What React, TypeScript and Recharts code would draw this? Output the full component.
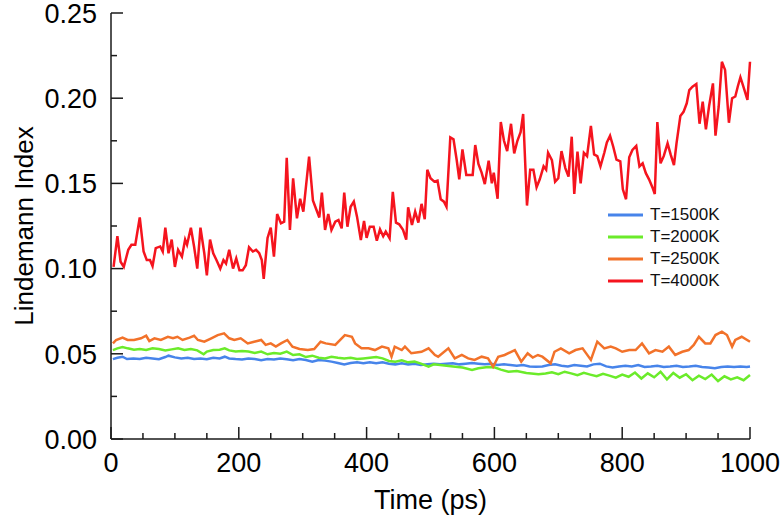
import React from "react"
import { LineChart, Line, XAxis, YAxis, Legend } from "recharts"

const FONT = '"Liberation Sans", Arial, Helvetica, sans-serif'

// tick positions (minor + major)
const xTicks = [0, 50, 100, 150, 200, 250, 300, 350, 400, 450, 500, 550, 600, 650, 700, 750, 800, 850, 900, 950, 1000]
const yTicks = [0, 0.025, 0.05, 0.075, 0.1, 0.125, 0.15, 0.175, 0.2, 0.225, 0.25]

// T = 1500K
const t1500 = [3, 10, 18, 25, 35, 45, 55, 65, 75, 85, 90, 100, 110, 120, 130, 140, 150, 160, 170, 178, 185, 195, 205, 215, 225, 235, 245, 255, 265, 275, 285, 295, 305, 315, 325, 335, 345, 355, 365, 375, 385, 395, 405, 415, 425, 435, 445, 455, 465, 475, 485, 495, 505, 515, 525, 535, 545, 555, 565, 575, 585, 595, 605, 615, 625, 635, 645, 655, 665, 675, 685, 695, 705, 715, 725, 735, 745, 755, 765, 775, 785, 795, 805, 815, 825, 835, 845, 855, 865, 875, 885, 895, 905, 915, 925, 935, 945, 955, 965, 975, 985, 995, 1000]
const v1500 = [0.0469, 0.0477, 0.0483, 0.0469, 0.0473, 0.0469, 0.0477, 0.0473, 0.0468, 0.0481, 0.0489, 0.0479, 0.0473, 0.0477, 0.0469, 0.0473, 0.0468, 0.0477, 0.0473, 0.0483, 0.0473, 0.0469, 0.0466, 0.0473, 0.0469, 0.0462, 0.0469, 0.0466, 0.0473, 0.0468, 0.0462, 0.0469, 0.0464, 0.0454, 0.0464, 0.046, 0.0454, 0.0446, 0.0438, 0.0446, 0.045, 0.0444, 0.045, 0.0444, 0.045, 0.0442, 0.0438, 0.0444, 0.0438, 0.0442, 0.0434, 0.0438, 0.0442, 0.0438, 0.0442, 0.0444, 0.0438, 0.0442, 0.0446, 0.0442, 0.0438, 0.0442, 0.0434, 0.0438, 0.0434, 0.043, 0.0434, 0.0426, 0.0424, 0.0426, 0.0434, 0.0438, 0.043, 0.0426, 0.0434, 0.043, 0.0426, 0.0438, 0.0442, 0.0426, 0.0419, 0.0426, 0.043, 0.0426, 0.0434, 0.0423, 0.0426, 0.043, 0.0423, 0.0426, 0.043, 0.0423, 0.0426, 0.043, 0.0423, 0.0419, 0.0415, 0.0423, 0.0426, 0.0423, 0.0426, 0.0423, 0.0426]

// T = 2000K
const t2000 = [3, 10, 18, 26, 36, 45, 55, 65, 75, 85, 95, 105, 115, 125, 135, 145, 150, 160, 170, 178, 185, 195, 205, 215, 225, 235, 245, 255, 265, 275, 285, 295, 305, 315, 325, 335, 345, 355, 365, 375, 385, 395, 405, 415, 425, 435, 445, 455, 465, 475, 485, 497, 505, 515, 525, 539, 550, 565, 575, 590, 601, 610, 622, 635, 650, 669, 680, 690, 700, 710, 720, 730, 740, 750, 760, 770, 780, 790, 800, 810, 820, 830, 840, 850, 860, 870, 880, 890, 900, 910, 920, 930, 940, 950, 960, 970, 980, 990, 1000]
const v2000 = [0.0522, 0.0532, 0.054, 0.0532, 0.0524, 0.0528, 0.0522, 0.0532, 0.0528, 0.052, 0.0526, 0.0532, 0.0522, 0.0528, 0.052, 0.0497, 0.0513, 0.0522, 0.0524, 0.0532, 0.052, 0.0513, 0.0516, 0.0513, 0.0505, 0.0513, 0.0497, 0.0505, 0.0501, 0.0513, 0.0493, 0.0497, 0.0481, 0.0489, 0.0477, 0.0473, 0.0483, 0.0477, 0.0473, 0.0477, 0.0469, 0.0473, 0.0477, 0.0481, 0.0473, 0.0458, 0.0454, 0.0462, 0.045, 0.0454, 0.0442, 0.0424, 0.0438, 0.0434, 0.043, 0.0424, 0.0419, 0.0405, 0.0415, 0.0423, 0.0419, 0.0407, 0.0395, 0.0399, 0.0387, 0.038, 0.0385, 0.0392, 0.038, 0.0395, 0.0385, 0.0375, 0.0388, 0.0378, 0.0368, 0.0382, 0.0372, 0.036, 0.0378, 0.0365, 0.039, 0.0355, 0.0385, 0.0362, 0.0395, 0.035, 0.0388, 0.036, 0.038, 0.0345, 0.0372, 0.0352, 0.0378, 0.034, 0.0368, 0.035, 0.0362, 0.0345, 0.0375]

// T = 2500K
const t2500 = [3, 8, 18, 26, 36, 47, 55, 60, 68, 78, 89, 97, 104, 112, 123, 130, 136, 146, 157, 167, 177, 185, 193, 203, 214, 224, 235, 242, 250, 258, 266, 276, 284, 295, 308, 318, 328, 336, 351, 366, 377, 382, 392, 403, 413, 424, 434, 439, 444, 455, 460, 470, 486, 497, 507, 512, 528, 538, 549, 559, 569, 580, 590, 598, 606, 616, 632, 642, 652, 660, 668, 675, 688, 694, 704, 717, 727, 738, 751, 761, 772, 782, 790, 800, 811, 821, 831, 842, 852, 863, 873, 883, 894, 904, 912, 920, 930, 938, 946, 956, 964, 972, 977, 987, 1000]
const v2500 = [0.0561, 0.0581, 0.0595, 0.0581, 0.0581, 0.0591, 0.0606, 0.0575, 0.0591, 0.0581, 0.06, 0.0591, 0.06, 0.0581, 0.0595, 0.0606, 0.0581, 0.0571, 0.0591, 0.061, 0.062, 0.0591, 0.0581, 0.0591, 0.0561, 0.0571, 0.0581, 0.0552, 0.0561, 0.0542, 0.0561, 0.0581, 0.0542, 0.0528, 0.0522, 0.0528, 0.0571, 0.0561, 0.0552, 0.061, 0.06, 0.0561, 0.0532, 0.0532, 0.0522, 0.0542, 0.0532, 0.0483, 0.0542, 0.0522, 0.0542, 0.0503, 0.0512, 0.0532, 0.0493, 0.0483, 0.0532, 0.0473, 0.0493, 0.0473, 0.0464, 0.0483, 0.0473, 0.0424, 0.0483, 0.0493, 0.0522, 0.0454, 0.0503, 0.0478, 0.0493, 0.0483, 0.0444, 0.0512, 0.0532, 0.0503, 0.0522, 0.0532, 0.0464, 0.0571, 0.0532, 0.0542, 0.0532, 0.0512, 0.0522, 0.0522, 0.0561, 0.0503, 0.0522, 0.0512, 0.0542, 0.0493, 0.0512, 0.0522, 0.0552, 0.06, 0.0561, 0.0561, 0.061, 0.063, 0.061, 0.0542, 0.0581, 0.06, 0.0571]

// T = 4000K
const t4000 = [4, 10, 15, 20, 27, 32, 38, 45, 51, 56, 61, 65, 70, 77, 81, 85, 90, 95, 100, 105, 111, 116, 119, 125, 130, 135, 140, 146, 150, 155, 160, 165, 171, 176, 180, 185, 191, 196, 201, 206, 211, 216, 222, 227, 232, 236, 239, 245, 250, 255, 260, 266, 271, 275, 280, 285, 291, 296, 301, 310, 316, 321, 326, 330, 335, 340, 345, 351, 356, 361, 365, 370, 375, 380, 385, 391, 396, 400, 405, 411, 416, 421, 426, 430, 436, 441, 446, 451, 457, 462, 465, 471, 476, 481, 486, 491, 495, 500, 506, 511, 516, 521, 525, 531, 536, 541, 545, 550, 556, 561, 566, 570, 575, 580, 585, 591, 596, 599, 605, 610, 615, 620, 626, 631, 636, 641, 645, 651, 656, 661, 666, 671, 677, 681, 684, 690, 695, 700, 705, 711, 716, 721, 725, 730, 735, 740, 745, 751, 756, 761, 766, 772, 776, 781, 786, 791, 797, 801, 806, 811, 816, 822, 827, 832, 837, 842, 848, 851, 855, 860, 865, 871, 876, 881, 885, 891, 896, 901, 905, 910, 916, 921, 926, 931, 936, 942, 946, 951, 956, 961, 967, 972, 977, 981, 985, 991, 996, 1000]
const v4000 = [0.101, 0.119, 0.104, 0.101, 0.111, 0.114, 0.114, 0.13, 0.11, 0.105, 0.105, 0.1015, 0.112, 0.113, 0.11, 0.124, 0.109, 0.117, 0.101, 0.111, 0.107, 0.117, 0.114, 0.124, 0.113, 0.1, 0.124, 0.109, 0.096, 0.117, 0.109, 0.105, 0.1, 0.105, 0.103, 0.111, 0.1, 0.106, 0.099, 0.099, 0.102, 0.1125, 0.11, 0.111, 0.109, 0.105, 0.094, 0.118, 0.124, 0.107, 0.132, 0.1266, 0.1275, 0.165, 0.1227, 0.153, 0.1295, 0.141, 0.1334, 0.1657, 0.14, 0.135, 0.13, 0.1446, 0.1227, 0.132, 0.1227, 0.1275, 0.1285, 0.1236, 0.1446, 0.1246, 0.1363, 0.1393, 0.1305, 0.1168, 0.128, 0.118, 0.1246, 0.1246, 0.1164, 0.123, 0.119, 0.1217, 0.1178, 0.145, 0.127, 0.126, 0.1227, 0.117, 0.136, 0.1256, 0.1334, 0.127, 0.138, 0.129, 0.158, 0.153, 0.151, 0.1516, 0.1407, 0.1393, 0.1363, 0.177, 0.1759, 0.1637, 0.1524, 0.17, 0.155, 0.155, 0.155, 0.1725, 0.1614, 0.1563, 0.1496, 0.1633, 0.15, 0.1563, 0.141, 0.186, 0.175, 0.169, 0.185, 0.1676, 0.175, 0.18, 0.1907, 0.137, 0.158, 0.158, 0.1477, 0.1524, 0.16, 0.158, 0.168, 0.1637, 0.151, 0.153, 0.169, 0.159, 0.154, 0.1774, 0.1438, 0.1686, 0.15, 0.168, 0.166, 0.1837, 0.167, 0.166, 0.16, 0.168, 0.174, 0.178, 0.1715, 0.164, 0.163, 0.1465, 0.1407, 0.1653, 0.1696, 0.172, 0.16, 0.1618, 0.156, 0.1524, 0.147, 0.1438, 0.186, 0.1618, 0.166, 0.1735, 0.1667, 0.1608, 0.1735, 0.1895, 0.192, 0.197, 0.2048, 0.2068, 0.2083, 0.185, 0.198, 0.1817, 0.1954, 0.2087, 0.178, 0.195, 0.2214, 0.2166, 0.1856, 0.2, 0.201, 0.207, 0.2123, 0.2052, 0.199, 0.2214]

const toPoints = (t: number[], v: number[]) => t.map((x, i) => ({ t: x, v: v[i] }))

const series = [
  { name: "T=1500K", color: "#4784EA", data: toPoints(t1500, v1500) },
  { name: "T=2000K", color: "#6BEB2A", data: toPoints(t2000, v2000) },
  { name: "T=2500K", color: "#F2722A", data: toPoints(t2500, v2500) },
  { name: "T=4000K", color: "#F5141E", data: toPoints(t4000, v4000) },
]

const AXIS = "#1a1a1a"

const isMajor = (v: number, step: number) => Math.abs(v / step - Math.round(v / step)) < 1e-6

function YTick(props: any) {
  const { x, y, payload } = props
  const major = isMajor(payload.value, 0.05)
  return (
    <g>
      <line x1={x} x2={x + (major ? 12 : 6)} y1={y} y2={y} stroke={AXIS} strokeWidth={1.5} />
      {major && (
        <text x={x - 14} y={y} dy="0.36em" textAnchor="end" fontSize={27} fontFamily={FONT} fill="#000">
          {payload.value.toFixed(2)}
        </text>
      )}
    </g>
  )
}

function XTick(props: any) {
  const { x, y, payload } = props
  const major = isMajor(payload.value, 200)
  return (
    <g>
      <line x1={x} x2={x} y1={y} y2={y - (major ? 12 : 6)} stroke={AXIS} strokeWidth={1.5} />
      {major && (
        <text x={x} y={y + 33} textAnchor="middle" fontSize={27} fontFamily={FONT} fill="#000">
          {payload.value}
        </text>
      )}
    </g>
  )
}

function LegendBox({ payload }: any) {
  return (
    <div style={{ fontFamily: FONT, fontSize: 17, color: "#111" }}>
      {(payload || []).map((e: any) => (
        <div key={e.value} style={{ display: "flex", alignItems: "center", height: 22 }}>
          <svg width={42} height={22}>
            <line x1={0} x2={35} y1={11} y2={11} stroke={e.color} strokeWidth={3} />
          </svg>
          <span>{e.value}</span>
        </div>
      ))}
    </div>
  )
}

export default function App() {
  return (
    <div style={{ position: "absolute", left: 0, top: 0, width: 783, height: 521, background: "#fff" }}>
      <LineChart width={783} height={521} margin={{ top: 13, right: 33, bottom: 0, left: 0 }}>
        <XAxis
          type="number"
          dataKey="t"
          domain={[0, 1000]}
          ticks={xTicks}
          interval={0}
          height={82}
          tickSize={0}
          tickMargin={0}
          tickLine={false}
          tick={<XTick />}
          axisLine={{ stroke: AXIS, strokeWidth: 1.5 }}
          label={{ value: "Time (ps)", position: "insideBottom", offset: 12, fontSize: 27, fill: "#000", fontFamily: FONT }}
        />
        <XAxis
          xAxisId="top"
          orientation="top"
          type="number"
          domain={[0, 1000]}
          height={0}
          tick={false}
          tickLine={false}
          axisLine={{ stroke: AXIS, strokeWidth: 1.5 }}
        />
        <YAxis
          type="number"
          domain={[0, 0.25]}
          ticks={yTicks}
          interval={0}
          width={111}
          tickSize={0}
          tickMargin={0}
          tickLine={false}
          tick={<YTick />}
          axisLine={{ stroke: AXIS, strokeWidth: 1.5 }}
          label={{
            content: ({ viewBox }: any) => {
              const cy = viewBox.y + viewBox.height / 2
              return (
                <text x={24} y={cy} transform={`rotate(-90 24 ${cy})`} dy="0.36em" textAnchor="middle" fontSize={26} fontFamily={FONT} fill="#000">
                  Lindemann Index
                </text>
              )
            },
          }}
        />
        <YAxis
          yAxisId="right"
          orientation="right"
          type="number"
          domain={[0, 0.25]}
          width={0}
          tick={false}
          tickLine={false}
          axisLine={{ stroke: AXIS, strokeWidth: 1.5 }}
        />
        <Legend
          layout="vertical"
          align="center"
          verticalAlign="middle"
          content={<LegendBox />}
          wrapperStyle={{ left: 608, top: 204, width: "auto" }}
        />
        {series.map((s) => (
          <Line
            key={s.name}
            name={s.name}
            data={s.data}
            dataKey="v"
            type="linear"
            stroke={s.color}
            strokeWidth={2.5}
            dot={false}
            isAnimationActive={false}
          />
        ))}
      </LineChart>
    </div>
  )
}
